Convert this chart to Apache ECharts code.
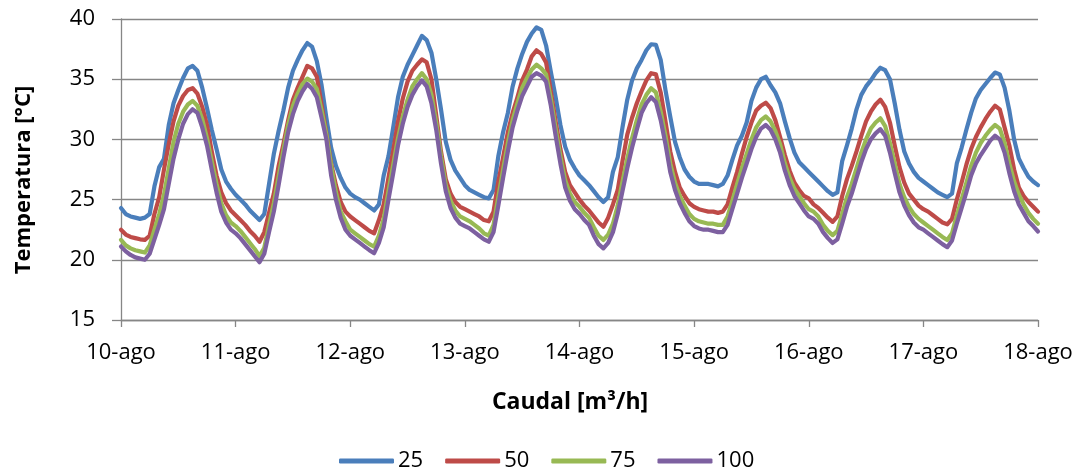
<!DOCTYPE html>
<html>
<head>
<meta charset="utf-8">
<script src="https://cdn.jsdelivr.net/npm/echarts@6/dist/echarts.min.js"></script>
<style>
html,body{margin:0;padding:0;background:#fff;}
#chart{width:1085px;height:472px;}
</style>
</head>
<body>
<div id="chart"></div>
<script>
// Tick labels (one per day, every 24 hours)
const dayLabels = ['10-ago','11-ago','12-ago','13-ago','14-ago','15-ago','16-ago','17-ago','18-ago'];
const seriesNames = ['25','50','75','100'];

// Hourly temperatures [°C], 10-ago 00:00 .. 18-ago 00:00 (193 values)
const t25 = [
 24.3,23.8,23.6,23.5,23.4,23.5,23.8,26.1,27.7,28.4,31.2,33.0,34.1,35.1,35.9,36.1,35.7,34.3,32.6,30.8,29.2,27.5,26.5,25.9,
 25.4,25.0,24.6,24.1,23.7,23.3,23.8,26.3,28.8,30.7,32.4,34.3,35.7,36.6,37.4,38.0,37.7,36.5,34.5,31.8,29.3,27.8,26.8,26.0,
 25.5,25.2,25.0,24.7,24.4,24.1,24.6,27.0,28.6,31.0,33.5,35.2,36.2,37.0,37.8,38.6,38.25,37.2,35.0,32.5,29.8,28.3,27.4,26.8,
 26.2,25.8,25.6,25.4,25.2,25.1,25.8,28.6,30.6,32.2,34.4,35.9,37.1,38.1,38.8,39.3,39.1,37.8,35.6,33.5,31.2,29.4,28.3,27.6,
 27.0,26.6,26.2,25.7,25.2,24.8,25.2,27.3,28.5,31.0,33.3,34.9,35.9,36.6,37.4,37.9,37.85,36.6,34.1,31.9,29.8,28.5,27.5,26.9,
 26.5,26.3,26.3,26.3,26.2,26.1,26.3,27.0,28.3,29.5,30.3,31.4,33.2,34.3,35.0,35.2,34.5,33.9,33.0,31.5,30.1,28.9,28.1,27.7,
 27.3,26.9,26.5,26.1,25.7,25.4,25.6,28.2,29.5,30.9,32.5,33.7,34.4,34.9,35.5,35.95,35.75,35.0,33.0,30.8,29.0,28.0,27.3,26.8,
 26.5,26.2,25.9,25.6,25.4,25.2,25.5,28.0,29.3,30.8,32.2,33.4,34.1,34.6,35.1,35.55,35.4,34.3,32.4,30.0,28.4,27.6,26.9,26.5,
 26.2
];
const t50 = [
 22.5,22.1,21.9,21.8,21.7,21.65,22.0,23.8,25.2,27.5,29.6,31.5,32.8,33.6,34.1,34.25,33.8,32.7,31.2,29.0,27.0,25.6,24.7,24.1,
 23.7,23.3,22.9,22.4,22.0,21.5,22.3,23.9,25.5,27.8,29.6,31.6,33.3,34.3,35.2,36.1,35.9,35.2,32.9,30.5,28.0,26.2,24.8,24.0,
 23.6,23.3,23.0,22.7,22.4,22.2,23.3,24.6,26.8,29.1,31.5,33.4,34.8,35.7,36.2,36.65,36.4,35.0,32.0,29.0,26.7,25.5,24.8,24.4,
 24.2,24.0,23.8,23.6,23.3,23.2,24.0,26.5,28.5,30.6,32.2,33.5,34.9,35.8,36.9,37.4,37.1,36.4,34.0,31.5,29.2,27.3,26.2,25.6,
 25.0,24.5,24.1,23.6,23.1,22.75,23.5,24.6,25.8,28.2,30.4,31.8,33.0,34.0,34.9,35.5,35.4,33.9,31.5,29.0,27.3,26.0,25.3,24.7,
 24.4,24.2,24.1,24.0,24.0,23.9,24.0,24.6,26.0,27.3,28.8,30.2,31.4,32.4,32.8,33.05,32.6,31.6,30.2,28.7,27.4,26.4,25.8,25.3,
 25.1,24.6,24.3,23.9,23.5,23.15,23.6,25.3,26.7,27.8,29.0,30.3,31.5,32.3,32.9,33.3,32.7,31.4,29.5,27.7,26.4,25.5,25.0,24.5,
 24.2,24.0,23.7,23.4,23.1,22.95,23.4,25.0,26.4,27.9,29.2,30.2,31.0,31.7,32.3,32.8,32.5,31.0,29.5,27.5,26.0,25.3,24.8,24.4,
 24.0
];
const t75 = [
 21.65,21.2,20.95,20.8,20.7,20.6,21.2,22.5,23.8,25.4,27.6,29.8,31.3,32.3,32.9,33.2,32.8,31.7,30.1,28.2,26.3,24.7,23.7,23.1,
 22.8,22.4,21.9,21.4,20.9,20.3,21.0,22.9,24.7,26.9,29.1,31.2,32.8,33.8,34.6,35.05,34.8,34.2,32.4,30.4,27.8,25.6,24.0,23.2,
 22.5,22.2,21.9,21.6,21.3,21.1,22.0,23.4,25.7,27.9,30.1,31.9,33.3,34.4,35.0,35.5,35.0,33.7,31.4,28.6,26.2,24.9,24.1,23.6,
 23.4,23.2,22.9,22.6,22.2,22.0,22.9,25.2,27.5,29.7,31.6,33.0,34.3,35.1,35.8,36.2,35.9,35.4,33.4,30.9,28.6,26.6,25.5,24.8,
 24.4,23.9,23.5,22.7,22.0,21.65,22.1,23.0,24.5,26.5,28.4,30.1,31.6,32.9,33.7,34.25,33.9,32.3,30.3,28.0,26.4,25.3,24.5,23.8,
 23.4,23.2,23.1,23.0,23.0,22.9,22.9,23.6,24.9,26.3,27.6,28.8,30.0,31.0,31.6,31.9,31.5,30.7,29.6,28.0,26.8,25.9,25.3,24.7,
 24.2,24.0,23.6,22.9,22.4,22.05,22.4,23.8,25.2,26.3,27.6,28.9,30.0,30.9,31.4,31.75,31.1,29.7,28.0,26.3,25.2,24.4,23.8,23.4,
 23.1,22.8,22.5,22.2,21.9,21.65,22.2,23.7,25.0,26.4,27.8,28.9,29.7,30.3,30.8,31.2,30.9,29.7,28.0,26.5,25.4,24.6,23.9,23.4,
 23.0
];
const t100 = [
 21.1,20.7,20.4,20.2,20.1,20.0,20.5,21.7,22.9,24.2,26.3,28.4,30.0,31.3,32.1,32.5,32.2,31.0,29.5,27.5,25.6,24.0,23.1,22.5,
 22.2,21.8,21.3,20.8,20.3,19.8,20.5,22.3,24.0,26.2,28.5,30.6,32.1,33.2,34.0,34.6,34.2,33.5,31.8,30.0,27.0,25.0,23.5,22.5,
 22.0,21.7,21.4,21.1,20.8,20.55,21.4,22.7,25.0,27.2,29.5,31.3,32.7,33.7,34.4,34.9,34.4,33.0,30.8,28.0,25.7,24.3,23.5,23.0,
 22.8,22.6,22.3,22.0,21.7,21.5,22.3,24.5,26.8,29.0,31.0,32.4,33.6,34.4,35.2,35.5,35.3,34.8,32.8,30.3,28.0,26.0,24.9,24.2,
 23.8,23.3,22.9,22.0,21.3,20.95,21.4,22.3,23.8,25.7,27.6,29.3,30.8,32.2,33.0,33.5,33.1,31.6,29.6,27.3,25.8,24.7,23.9,23.2,
 22.8,22.6,22.5,22.5,22.4,22.3,22.3,22.9,24.2,25.5,26.8,28.0,29.2,30.2,30.9,31.2,30.8,30.0,28.9,27.4,26.2,25.3,24.7,24.1,
 23.6,23.4,23.0,22.3,21.8,21.4,21.7,23.0,24.4,25.5,26.8,28.1,29.2,30.0,30.5,30.85,30.3,28.9,27.2,25.6,24.5,23.7,23.1,22.7,
 22.5,22.2,21.9,21.6,21.3,21.05,21.6,23.0,24.3,25.6,27.0,28.0,28.7,29.3,29.9,30.3,30.0,28.9,27.2,25.7,24.6,23.9,23.2,22.8,
 22.35
];

const colors = ['#4A7EBB','#BE4B48','#98B954','#7D60A0'];
const FONT = '"Open Sans"';
const allSeries = [t25, t50, t75, t100];

const chart = echarts.init(document.getElementById('chart'), null, {renderer:'canvas'});
chart.setOption({
  animation: false,
  backgroundColor: '#ffffff',
  color: colors,
  grid: {left:121, right:47, top:19, bottom:152, containLabel:false},
  xAxis: {
    type:'value', min:0, max:192, interval:24,
    axisLine:{show:true, lineStyle:{color:'#868686', width:1.3}},
    axisTick:{show:true, length:7, lineStyle:{color:'#868686', width:1.3}},
    splitLine:{show:false},
    axisLabel:{formatter:v => dayLabels[Math.round(v/24)], fontFamily:FONT, fontSize:22, color:'#000', margin:22}
  },
  yAxis: {
    type:'value', min:15, max:40, interval:5,
    axisLine:{show:true, lineStyle:{color:'#868686', width:1.3}},
    axisTick:{show:true, length:9, lineStyle:{color:'#868686', width:1.3}},
    splitLine:{show:true, lineStyle:{color:'#868686', width:1.3}},
    axisLabel:{fontFamily:FONT, fontSize:22, color:'#000', margin:26}
  },
  legend: {
    data: seriesNames, left:334, top:445, icon:'roundRect',
    itemWidth:55, itemHeight:5, itemGap:22,
    textStyle:{fontFamily:FONT, fontSize:22, color:'#000', padding:[0,0,0,-1]}
  },
  graphic: [
    {type:'text', x:24, y:180, rotation:Math.PI/2,
     style:{text:'Temperatura [°C]', font:'bold 22px ' + FONT, fill:'#000', align:'center', verticalAlign:'middle'}},
    {type:'text', x:570, y:402,
     style:{text:'Caudal [m³/h]', font:'bold 23px ' + FONT, fill:'#000', align:'center', verticalAlign:'middle'}}
  ],
  series: allSeries.map((arr, i) => ({
    name: seriesNames[i], type:'line', showSymbol:false, symbol:'none',
    data: arr.map((v, h) => [h, v]),
    lineStyle:{width:4.2, color:colors[i], cap:'round', join:'round'},
    itemStyle:{color:colors[i]}
  }))
});
</script>
</body>
</html>
